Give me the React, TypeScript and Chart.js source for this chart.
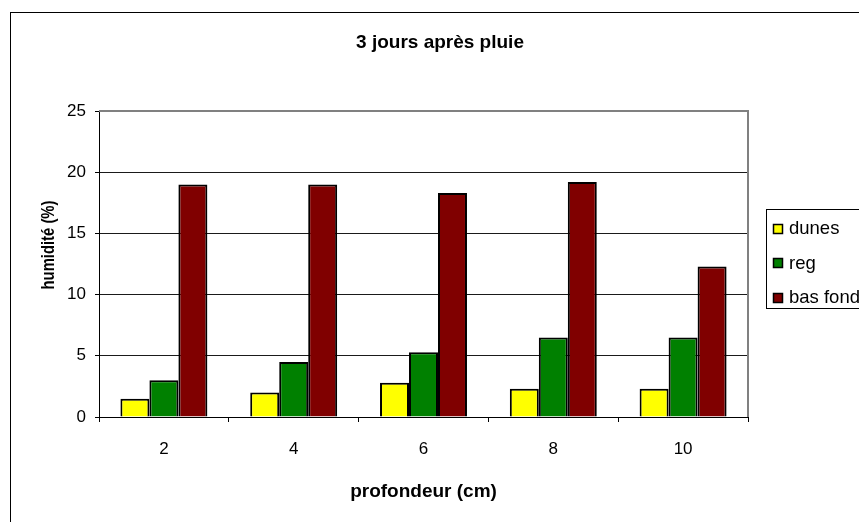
import React, { useEffect, useRef } from "react";
import { Chart, registerables } from "chart.js";

Chart.register(...registerables);

const categories = ["2", "4", "6", "8", "10"];
const dunes = [1.5, 2.0, 2.8, 2.3, 2.3];
const reg = [3.0, 4.5, 5.3, 6.5, 6.5];
const basFond = [19.0, 19.0, 18.3, 19.2, 12.3];
const seriesNames = ["dunes", "reg", "bas fond"];
const seriesColors = ["#FFFF00", "#008000", "#800000"];
const yMin = 0;
const yMax = 25;
const yStep = 5;
const chartTitle = "3 jours après pluie";
const xTitle = "profondeur (cm)";
const yTitle = "humidité (%)";

const FONT = '"Liberation Sans", Arial, sans-serif';

function drawText(
  ctx: CanvasRenderingContext2D,
  text: string,
  x: number,
  y: number,
  font: string,
  sx: number,
  align: CanvasTextAlign,
  rot = 0
) {
  ctx.save();
  ctx.translate(x, y);
  if (rot) ctx.rotate(rot);
  ctx.scale(sx, 1);
  ctx.font = font;
  ctx.fillStyle = "#000";
  ctx.textAlign = align;
  ctx.textBaseline = "alphabetic";
  ctx.fillText(text, 0, 0);
  ctx.restore();
}

const decorPlugin = {
  id: "decor",
  beforeDraw(chart: any) {
    const ctx = chart.ctx as CanvasRenderingContext2D;
    ctx.save();
    ctx.fillStyle = "#fff";
    ctx.fillRect(0, 0, chart.width, chart.height);
    ctx.strokeStyle = "#000";
    ctx.lineWidth = 1;
    ctx.strokeRect(2.5, 4.5, chart.width + 50, chart.height + 50);
    ctx.restore();
  },
  afterDraw(chart: any) {
    const ctx = chart.ctx as CanvasRenderingContext2D;
    const a = chart.chartArea;
    ctx.save();
    ctx.strokeStyle = "#808080";
    ctx.lineWidth = 2;
    ctx.beginPath();
    ctx.moveTo(a.left, a.top);
    ctx.lineTo(a.right, a.top);
    ctx.lineTo(a.right, a.bottom);
    ctx.stroke();
    ctx.restore();

    // titles
    drawText(ctx, chartTitle, 432, 40, `bold 19px ${FONT}`, 1.0, "center");
    drawText(ctx, xTitle, (a.left + a.right) / 2, 489, `bold 19px ${FONT}`, 1.0, "center");
    drawText(ctx, yTitle, 45.5, 237, `bold 19px ${FONT}`, 0.78, "center", -Math.PI / 2);

    // legend
    ctx.save();
    ctx.strokeStyle = "#000";
    ctx.lineWidth = 1;
    ctx.fillStyle = "#fff";
    ctx.fillRect(758.5, 201.5, 200, 99);
    ctx.strokeRect(758.5, 201.5, 200, 99);
    const baselines = [226, 260.5, 295];
    seriesNames.forEach((name, i) => {
      const top = Math.round(baselines[i] - 10.5) + 0.5;
      ctx.fillStyle = seriesColors[i];
      ctx.fillRect(765.5, top, 9, 9);
      ctx.strokeStyle = "#000";
      ctx.lineWidth = 1.5;
      ctx.strokeRect(765.5, top, 9, 9);
      drawText(ctx, name, 781, baselines[i], `18.5px ${FONT}`, 1.0, "left");
    });
    ctx.restore();
  },
};

export default function App() {
  const ref = useRef<HTMLCanvasElement>(null);
  useEffect(() => {
    document.documentElement.style.overflow = "hidden";
    document.body.style.marginRight = "0px";
    document.body.style.marginBottom = "0px";
    if (!ref.current) return;
    const chart = new Chart(ref.current, {
      type: "bar",
      data: {
        labels: categories,
        datasets: [dunes, reg, basFond].map((d, i) => ({
          label: seriesNames[i],
          data: d,
          backgroundColor: seriesColors[i],
          borderColor: "#000",
          borderWidth: 2,
          categoryPercentage: 0.67,
          barPercentage: 1.0,
        })),
      },
      options: {
        responsive: false,
        animation: false,
        devicePixelRatio: 1,
        layout: { padding: { left: 51, top: 103, right: 111, bottom: 65 } },
        plugins: {
          legend: { display: false },
          title: { display: false },
          tooltip: { enabled: false },
        },
        scales: {
          x: {
            afterFit: (s: any) => {
              s.height = 40;
            },
            grid: {
              display: true,
              drawOnChartArea: false,
              offset: true,
              tickLength: 5,
              color: "#000",
              tickColor: "#000",
            },
            border: { display: true, color: "#000", width: 1 },
            ticks: {
              color: "#000",
              padding: 17,
              font: { family: FONT, size: 17 },
            },
          },
          y: {
            min: yMin,
            max: yMax,
            afterFit: (s: any) => {
              s.width = 40;
            },
            grid: {
              color: "#1a1a1a",
              tickColor: "#000",
              tickLength: 4,
              lineWidth: 1,
            },
            border: { display: true, color: "#000", width: 1 },
            ticks: {
              stepSize: yStep,
              color: "#000",
              padding: 9,
              font: { family: FONT, size: 17 },
            },
          },
        },
      },
      plugins: [decorPlugin],
    } as any);
    return () => chart.destroy();
  }, []);
  return (
    <div style={{ width: 851, height: 514, overflow: "hidden" }}>
      <canvas ref={ref} width={851} height={514} style={{ display: "block" }} />
    </div>
  );
}
